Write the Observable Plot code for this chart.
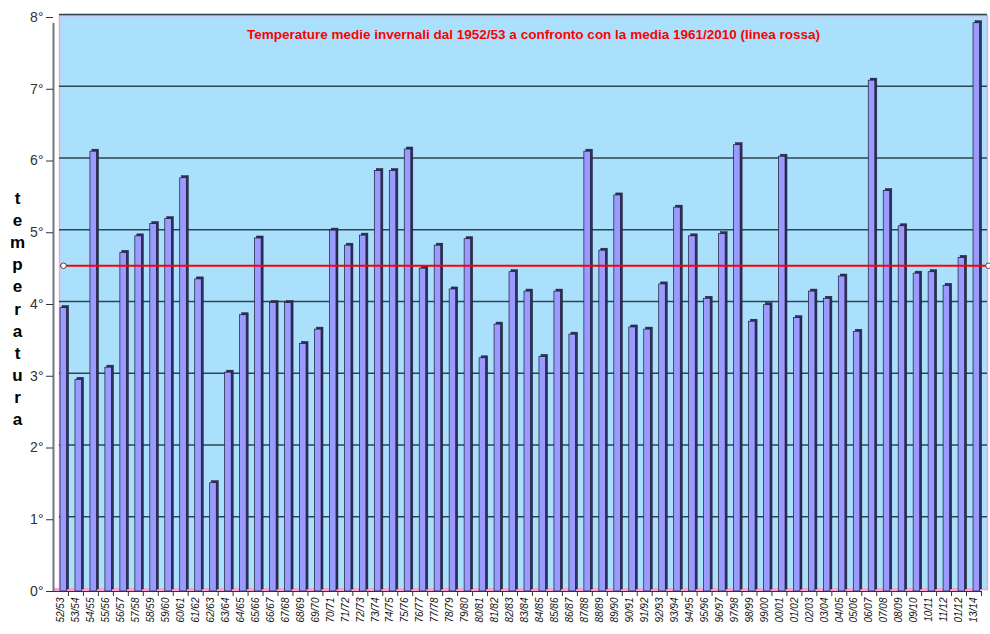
<!DOCTYPE html>
<html>
<head>
<meta charset="utf-8">
<script src="https://cdn.jsdelivr.net/npm/d3@7"></script>
<script src="https://cdn.jsdelivr.net/npm/@observablehq/plot@0.6"></script>
<style>
  body { margin: 0; background: #fff; }
  #chart svg { font-family: "Liberation Sans", Arial, sans-serif; overflow: visible; }
  #chart g[aria-label="x-axis tick label"] text { font-style: italic; }
</style>
</head>
<body>
<div id="chart"></div>
<script>
const title = "Temperature medie invernali dal 1952/53 a confronto con la media 1961/2010 (linea rossa)";
const yLabel = "temperatura";
const seasons = [
  "52/53","53/54","54/55","55/56","56/57","57/58","58/59","59/60","60/61","61/62",
  "62/63","63/64","64/65","65/66","66/67","67/68","68/69","69/70","70/71","71/72",
  "72/73","73/74","74/75","75/76","76/77","77/78","78/79","79/80","80/81","81/82",
  "82/83","83/84","84/85","85/86","86/87","87/88","88/89","89/90","90/91","91/92",
  "92/93","93/94","94/95","95/96","96/97","97/98","98/99","99/00","00/01","01/02",
  "02/03","03/04","04/05","05/06","06/07","07/08","08/09","09/10","10/11","11/12",
  "01/12","13/14"
];
const temps = [
  3.95, 2.95, 6.13, 3.12, 4.72, 4.95, 5.12, 5.19, 5.76, 4.35,
  1.51, 3.05, 3.85, 4.92, 4.02, 4.02, 3.45, 3.65, 5.03, 4.82,
  4.96, 5.86, 5.86, 6.16, 4.50, 4.82, 4.21, 4.91, 3.25, 3.72,
  4.45, 4.18, 3.27, 4.18, 3.58, 6.13, 4.75, 5.52, 3.68, 3.65,
  4.28, 5.35, 4.95, 4.08, 4.98, 6.22, 3.76, 3.99, 6.06, 3.81,
  4.18, 4.08, 4.39, 3.62, 7.12, 5.58, 5.09, 4.43, 4.45, 4.26,
  4.65, 7.92
];
const mean6110 = 4.54;
const yTicks = [0, 1, 2, 3, 4, 5, 6, 7, 8];
const gridTicks = [1, 2, 3, 4, 5, 6, 7, 8];

const data = seasons.map((s, i) => ({season: s, t: temps[i]}));

const chart = Plot.plot({
  width: 990,
  height: 634,
  marginLeft: 53,
  marginRight: 9,
  marginTop: 17,
  marginBottom: 43,
  x: {domain: seasons, padding: 0, label: null},
  y: {domain: [0, 8], label: null},
  marks: [
    Plot.frame({fill: "#abe0fd", stroke: "#f7a3d3", strokeWidth: 1.5, dx: 6, dy: -2}),
    Plot.ruleY(gridTicks, {stroke: "#2c4650", strokeWidth: 1.4, dx: 6, dy: -3}),
    Plot.ruleY([0], {stroke: "#f7a3d3", strokeWidth: 3, dy: -2}),
    Plot.barY(data, {x: "season", y: "t", fill: "#2f2f5c", stroke: "#1a1a33", strokeWidth: 0.5, insetLeft: 9, insetRight: -0.6, dy: -2}),
    Plot.barY(data, {x: "season", y: "t", fill: "#9b9bff", stroke: "#1a1a33", strokeWidth: 0.7, insetLeft: 7, insetRight: 1.4}),
    Plot.ruleY([mean6110], {stroke: "#ff0000", strokeWidth: 2, dx: 7}),
    Plot.dot([mean6110], {y: d => d, frameAnchor: "left", dx: 10, r: 2.8, fill: "#fff", stroke: "#444", strokeWidth: 1}),
    Plot.dot([mean6110], {y: d => d, frameAnchor: "right", dx: 7, r: 2.8, fill: "#fff", stroke: "#444", strokeWidth: 1}),
    Plot.ruleY([0], {stroke: "#333", strokeWidth: 1.2}),
    Plot.ruleX([seasons[0]], {y1: 0, y2: 8, dx: -7.48, insetBottom: -6, stroke: "#6b7b80", strokeWidth: 2}),
    Plot.axisY({ticks: yTicks, tickFormat: d => d + "°", tickSize: 7, tickPadding: 3, fontSize: 14, fill: "#333", stroke: "#333", label: null}),
    Plot.axisX({ticks: seasons, tickSize: 5, text: null, dx: 7.48, stroke: "#333", label: null}),
    Plot.axisX({ticks: seasons, tickSize: 0, tickPadding: 6, tickRotate: -90, fontSize: 10, fill: "#111", label: null}),
    Plot.text([title], {frameAnchor: "top", dx: 16, dy: 12, fill: "#ff0000", fontWeight: "bold", fontSize: 13.5}),
    Plot.text([yLabel.split("").join("\n")], {frameAnchor: "left", textAnchor: "middle", dx: -36, dy: 3, lineHeight: 1.3, fontSize: 17, fontWeight: "bold", fill: "#000"})
  ]
});
document.getElementById("chart").appendChild(chart);
</script>
</body>
</html>
